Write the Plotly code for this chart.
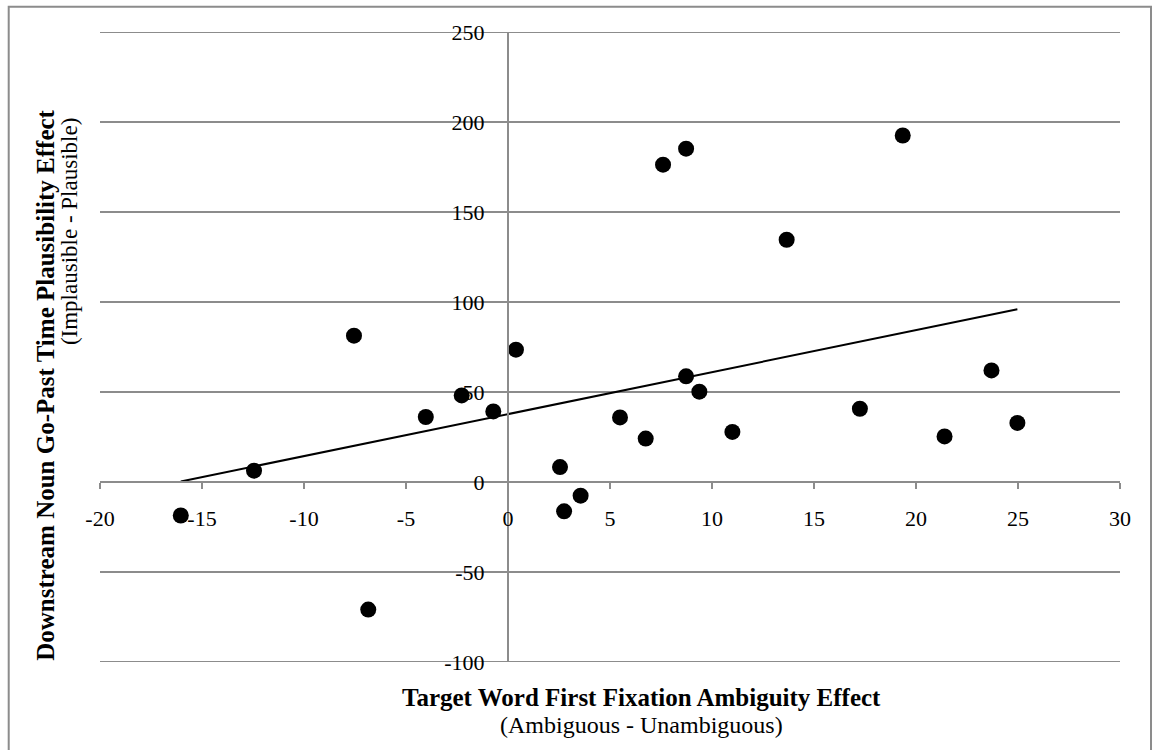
import numpy as np
import plotly.graph_objects as go

# Target word first fixation ambiguity effect (ms)
ambiguity_effect = [-16.04, -12.45, -7.55, -6.85, -4.03, -2.27, -0.72, 0.39,
                    2.55, 2.75, 3.56, 5.49, 6.75, 8.73, 9.38, 11.0, 17.25,
                    7.6, 8.73, 13.66, 19.35, 21.4, 23.7, 24.97]
# Downstream noun go-past time plausibility effect (ms)
plausibility_effect = [-18.6, 6.3, 81.3, -70.9, 36.1, 48.1, 39.2, 73.5,
                       8.3, -16.3, -7.6, 35.9, 24.1, 58.7, 50.2, 27.8, 40.7,
                       176.3, 185.2, 134.6, 192.5, 25.3, 62.0, 32.8]

x_ticks = [-20, -15, -10, -5, 0, 5, 10, 15, 20, 25, 30]
x_tick_labels = ["-20", "-15", "-10", "-5", "0", "5", "10", "15", "20", "25", "30"]
y_ticks = [-100, -50, 0, 50, 100, 150, 200, 250]
y_tick_labels = ["-100", "-50", "0", "50", "100", "150", "200", "250"]

x_title = "Target Word First Fixation Ambiguity Effect"
x_sub = "(Ambiguous - Unambiguous)"
y_title = "Downstream Noun Go-Past Time Plausibility Effect"
y_sub = "(Implausible - Plausible)"

FONT = "Liberation Serif, Times New Roman, serif"
GRID = "#8c8c8c"

xa = np.array(ambiguity_effect)
ya = np.array(plausibility_effect)
slope, intercept = np.polyfit(xa, ya, 1)
tx = np.array([xa.min(), xa.max()])
ty = slope * tx + intercept

fig = go.Figure()
fig.add_trace(go.Scatter(x=tx, y=ty, mode="lines",
                         line=dict(color="black", width=2), showlegend=False,
                         hoverinfo="skip"))
fig.add_trace(go.Scatter(x=ambiguity_effect, y=plausibility_effect, mode="markers",
                         marker=dict(color="black", size=16), showlegend=False))

xr = [x_ticks[0], x_ticks[-1]]
yr = [y_ticks[0], y_ticks[-1]]

# edge gridlines (plotly omits gridlines at the range ends)
edge_lines = [dict(type="line", xref="paper", yref="y", x0=0, x1=1,
                   y0=v, y1=v, line=dict(color=GRID, width=2), layer="below")
              for v in (y_ticks[0], y_ticks[-1])]

fig.update_layout(
    width=1155, height=750,
    margin=dict(l=100, r=35, t=32, b=88),
    paper_bgcolor="white", plot_bgcolor="white",
    font=dict(family=FONT, size=22, color="black"),
    xaxis=dict(range=xr, tickvals=x_ticks, ticktext=x_tick_labels,
               showgrid=False, zeroline=False,
               showline=True, linecolor=GRID, linewidth=2,
               ticks="outside", ticklen=6, tickwidth=2, tickcolor=GRID,
               anchor="free", position=(0 - yr[0]) / (yr[1] - yr[0]),
               ticklabelstandoff=11,
               tickfont=dict(family=FONT, size=22)),
    yaxis=dict(range=yr, tickvals=y_ticks, ticktext=y_tick_labels,
               showgrid=True, gridcolor=GRID,
               gridwidth=2, zeroline=False, showline=True, linecolor=GRID,
               linewidth=2, ticks="", anchor="free",
               position=(0 - xr[0]) / (xr[1] - xr[0]),
               ticklabelstandoff=18,
               tickfont=dict(family=FONT, size=22)),
    shapes=edge_lines + [dict(type="rect", xref="paper", yref="paper",
                              x0=-0.0895, x1=1.0304, y0=-0.16, y1=1.04,
                              line=dict(color=GRID, width=2))],
    annotations=[
        dict(text="<b>" + x_title + "</b>", xref="paper", yref="paper",
             x=0.531, y=-0.0556, showarrow=False, yanchor="middle",
             font=dict(family=FONT, size=25)),
        dict(text=x_sub, xref="paper", yref="paper",
             x=0.531, y=-0.1, showarrow=False, yanchor="middle",
             font=dict(family=FONT, size=24)),
        dict(text="<b>" + y_title + "</b>", xref="paper", yref="paper",
             x=-0.053, y=0.44, showarrow=False, textangle=-90,
             xanchor="center", yanchor="middle",
             font=dict(family=FONT, size=25)),
        dict(text=y_sub, xref="paper", yref="paper",
             x=-0.030, y=0.683, showarrow=False, textangle=-90,
             xanchor="center", yanchor="middle",
             font=dict(family=FONT, size=23)),
    ],
)

fig.write_html("out.html")
